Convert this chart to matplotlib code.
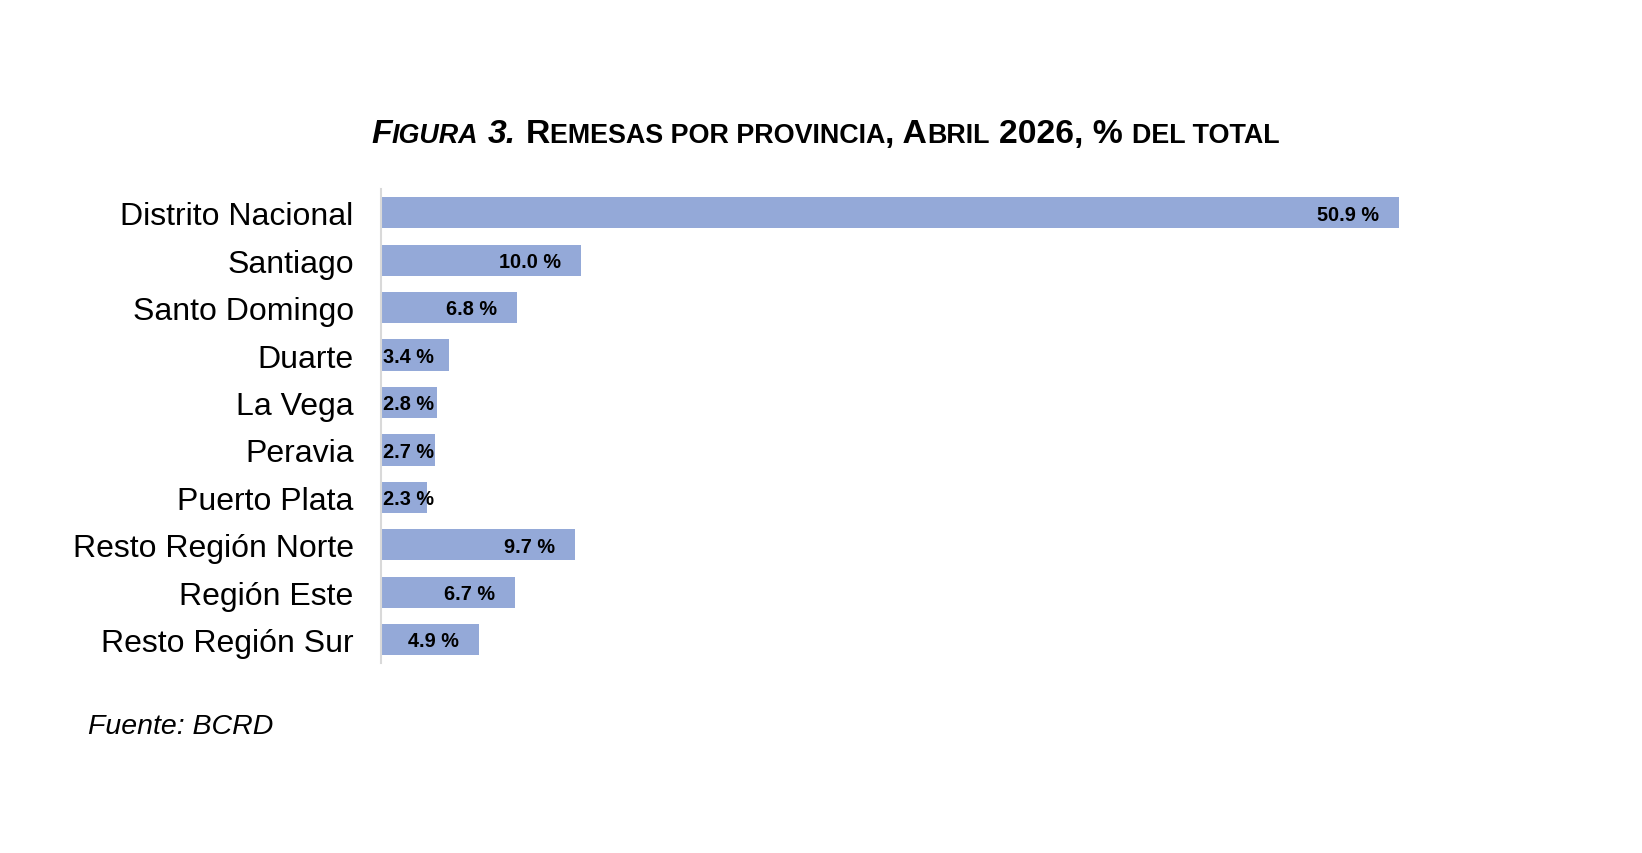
import matplotlib
matplotlib.use("Agg")
import matplotlib.pyplot as plt

plt.rcParams['font.family'] = ['Liberation Sans', 'DejaVu Sans']

provincias = ['Distrito Nacional', 'Santiago', 'Santo Domingo', 'Duarte', 'La Vega',
              'Peravia', 'Puerto Plata', 'Resto Región Norte', 'Región Este',
              'Resto Región Sur']
valores = [50.9, 10.0, 6.8, 3.4, 2.8, 2.7, 2.3, 9.7, 6.7, 4.9]

# title pieces: (text, small caps?, italic?, space before?)
titulo = [
    ('F', False, True, False), ('IGURA', True, True, False), ('3.', False, True, True),
    ('R', False, False, True), ('EMESAS POR PROVINCIA', True, False, False),
    (', A', False, False, False), ('BRIL', True, False, False),
    ('2026, %', False, False, True), ('DEL TOTAL', True, False, True),
]

BAR = '#94A9D8'

fig = plt.figure(figsize=(16.42, 8.54), dpi=100)
ax = fig.add_axes([0.2323, 0.2221, 0.7308, 0.5554])

y = list(range(len(provincias)))
ax.barh(y, valores, height=0.66, color=BAR, zorder=2)
ax.set_ylim(len(provincias) - 0.5, -0.5)
ax.set_xlim(0, 60)
ax.set_yticks(y)
ax.set_yticklabels(provincias, fontsize=23)
ax.tick_params(axis='y', length=0, pad=20)
ax.set_xticks([])
for s in ['top', 'right', 'bottom']:
    ax.spines[s].set_visible(False)
ax.spines['left'].set_color('#D9D9D9')
ax.spines['left'].set_linewidth(1.5)

fig.canvas.draw()
r = fig.canvas.get_renderer()
ax_left = ax.get_window_extent(r).x0
for yi, v in zip(y, valores):
    t = ax.annotate(f'{v:.1f} %', (v, yi), xytext=(-15, -1), textcoords='offset points',
                    ha='right', va='center', fontsize=14.3, fontweight='bold', zorder=3)
    bb = t.get_window_extent(r)
    if bb.x0 < ax_left:
        t.remove()
        ax.annotate(f'{v:.1f} %', (0, yi), xytext=(1, -1), textcoords='offset points',
                    ha='left', va='center', fontsize=14.3, fontweight='bold', zorder=3)

# small-caps title built from pieces
big, small = 24.3, 19.4
space_px = 0.278 * big * 100 / 72
widths = []
for txt, sc, it, sp in titulo:
    t = fig.text(0, 0, txt, fontsize=small if sc else big, fontweight='bold',
                 style='italic' if it else 'normal')
    widths.append(t.get_window_extent(r).width)
    t.remove()
total = sum(widths) + space_px * sum(1 for p in titulo if p[3])
x = 825.5 - total / 2
W, H = fig.bbox.width, fig.bbox.height
for (txt, sc, it, sp), w in zip(titulo, widths):
    if sp:
        x += space_px
    fig.text(x / W, 1 - 143 / 854, txt, fontsize=small if sc else big, fontweight='bold',
             style='italic' if it else 'normal', ha='left', va='baseline')
    x += w

fig.text(88 / 1642, 1 - 734 / 854, 'Fuente: BCRD', fontsize=20.5, style='italic',
         ha='left', va='baseline')

fig.savefig('out.png', dpi=100)
